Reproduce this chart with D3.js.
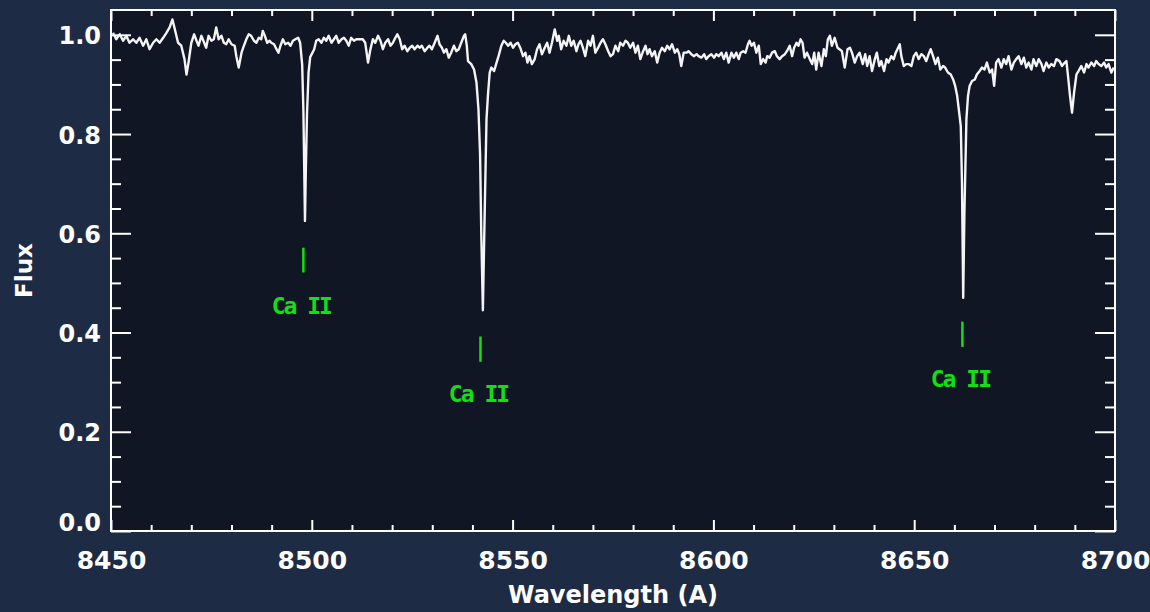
<!DOCTYPE html>
<html>
<head>
<meta charset="utf-8">
<script src="https://cdn.jsdelivr.net/npm/d3@7"></script>
<style>
  html, body { margin: 0; padding: 0; background: #1e2b44; }
  svg { display: block; }
</style>
</head>
<body>
<svg id="chart" width="1150" height="612"></svg>
<script>
// Ca II infrared triplet region: normalised flux vs wavelength (Angstrom)
const wavelength = [
  8450.5, 8451.3, 8452.2, 8453.0, 8453.8, 8454.6, 8455.5, 8456.3, 8457.1, 8458.0,
  8458.8, 8459.6, 8460.5, 8461.3, 8462.1, 8463.0, 8463.8, 8464.6, 8465.3, 8465.9,
  8466.7, 8467.5, 8468.3, 8468.8, 8469.3, 8470.0, 8470.7, 8471.3, 8471.8, 8472.5,
  8473.2, 8473.7, 8474.3, 8475.0, 8475.6, 8476.2, 8476.8, 8477.5, 8478.1, 8478.7,
  8479.3, 8480.0, 8480.8, 8481.2, 8481.8, 8482.5, 8483.1, 8483.7, 8484.3, 8484.9,
  8485.6, 8486.2, 8486.8, 8487.4, 8487.8, 8488.3, 8488.9, 8489.5, 8489.9, 8490.6,
  8491.2, 8491.7, 8492.2, 8492.8, 8493.4, 8494.1, 8494.7, 8495.3, 8495.9, 8496.6,
  8497.1, 8497.6, 8497.9, 8498.1, 8498.3, 8498.5, 8498.8, 8499.2, 8499.6, 8500.6,
  8501.1, 8501.7, 8502.4, 8503.0, 8503.6, 8504.2, 8504.9, 8505.5, 8506.1, 8506.7,
  8507.4, 8508.0, 8508.6, 8509.2, 8509.8, 8510.5, 8511.1, 8512.7, 8513.3, 8514.0,
  8514.6, 8515.2, 8515.8, 8516.5, 8517.1, 8517.7, 8518.3, 8519.0, 8519.6, 8520.2,
  8520.8, 8521.3, 8521.9, 8522.5, 8523.1, 8523.8, 8524.4, 8525.0, 8525.6, 8526.3,
  8526.9, 8527.4, 8528.1, 8528.8, 8529.3, 8529.9, 8530.6, 8531.3, 8531.8, 8532.4,
  8532.9, 8533.5, 8534.1, 8534.7, 8535.4, 8536.0, 8536.6, 8537.2, 8537.9, 8538.2,
  8538.6, 8538.9, 8539.7, 8540.4, 8541.0, 8541.5, 8541.9, 8542.2, 8542.6, 8543.0,
  8543.5, 8543.9, 8544.3, 8544.7, 8545.4, 8545.9, 8546.5, 8547.2, 8547.8, 8548.3,
  8548.9, 8549.5, 8550.1, 8550.7, 8551.3, 8551.9, 8552.6, 8553.2, 8553.7, 8554.2,
  8554.8, 8555.5, 8556.1, 8556.7, 8557.3, 8558.0, 8558.6, 8559.2, 8559.8, 8560.5,
  8561.1, 8561.5, 8562.1, 8562.7, 8563.4, 8564.0, 8564.6, 8565.2, 8565.9, 8566.4,
  8566.9, 8567.5, 8568.1, 8568.8, 8569.4, 8570.0, 8570.6, 8571.3, 8571.9, 8572.5,
  8573.1, 8573.8, 8574.4, 8575.0, 8575.6, 8576.3, 8576.8, 8577.5, 8578.1, 8578.7,
  8579.3, 8580.0, 8580.6, 8581.2, 8581.8, 8582.5, 8583.1, 8583.6, 8584.1, 8584.7,
  8585.4, 8586.0, 8586.6, 8587.2, 8587.9, 8588.5, 8589.1, 8589.7, 8590.4, 8591.0,
  8591.5, 8592.0, 8592.6, 8593.3, 8593.8, 8594.5, 8595.2, 8595.8, 8596.3, 8597.0,
  8597.7, 8598.2, 8598.8, 8599.5, 8600.2, 8600.7, 8601.3, 8602.0, 8602.6, 8603.2,
  8603.8, 8604.5, 8605.1, 8605.7, 8606.3, 8606.8, 8607.4, 8608.0, 8608.6, 8609.0,
  8609.5, 8610.1, 8610.7, 8611.3, 8611.8, 8612.4, 8613.0, 8613.4, 8614.0, 8614.6,
  8615.3, 8615.8, 8616.5, 8617.1, 8617.8, 8618.3, 8619.0, 8619.6, 8620.1, 8620.7,
  8621.2, 8621.7, 8622.2, 8622.7, 8623.3, 8624.0, 8624.6, 8625.1, 8625.6, 8626.2,
  8626.9, 8627.5, 8628.0, 8628.5, 8629.0, 8629.5, 8630.2, 8630.9, 8631.4, 8632.0,
  8632.7, 8633.4, 8634.0, 8634.5, 8635.2, 8635.8, 8636.4, 8637.2, 8637.8, 8638.3,
  8638.9, 8639.5, 8640.2, 8640.7, 8641.3, 8641.8, 8642.5, 8643.1, 8643.6, 8644.3,
  8644.9, 8645.4, 8646.0, 8646.4, 8646.8, 8647.4, 8648.0, 8648.6, 8649.3, 8649.9,
  8650.5, 8651.1, 8651.8, 8652.4, 8653.0, 8653.6, 8654.1, 8654.7, 8655.3, 8655.9,
  8656.5, 8657.2, 8657.7, 8658.4, 8659.1, 8659.7, 8660.2, 8660.7, 8661.1, 8661.6,
  8661.9, 8662.2, 8662.5, 8663.0, 8663.4, 8663.8, 8664.4, 8665.1, 8665.6, 8666.3,
  8666.9, 8667.5, 8668.1, 8668.8, 8669.4, 8669.9, 8670.4, 8671.0, 8671.7, 8672.3,
  8672.9, 8673.5, 8674.2, 8674.8, 8675.4, 8676.0, 8676.7, 8677.3, 8677.9, 8678.5,
  8679.2, 8679.7, 8680.4, 8681.0, 8681.7, 8682.2, 8682.9, 8683.5, 8684.1, 8684.8,
  8685.4, 8686.2, 8686.8, 8687.5, 8687.9, 8688.3, 8688.8, 8689.3, 8689.8, 8690.4,
  8690.9, 8691.6, 8692.3, 8692.9, 8693.4, 8694.1, 8694.8, 8695.3, 8695.9, 8696.6,
  8697.3, 8697.8, 8698.4, 8699.1, 8699.7
];

const flux = [
  1.004, 0.991, 1.001, 0.988, 0.998, 0.984, 0.991, 0.984, 0.994, 0.978,
  0.991, 0.971, 0.984, 0.991, 0.984, 0.994, 1.004, 1.015, 1.031, 1.011,
  0.984, 0.978, 0.951, 0.920, 0.944, 0.984, 1.001, 0.988, 0.978, 0.998,
  0.984, 0.974, 0.998, 0.988, 0.991, 1.015, 0.991, 0.998, 0.984, 0.981,
  0.991, 0.981, 0.978, 0.957, 0.934, 0.964, 0.978, 0.991, 1.001, 0.998,
  0.988, 0.984, 0.994, 0.991, 1.008, 0.998, 0.984, 0.988, 0.984, 0.981,
  0.971, 0.964, 0.978, 0.991, 0.981, 0.984, 0.978, 0.988, 0.991, 0.994,
  0.984, 0.940, 0.850, 0.740, 0.625, 0.720, 0.840, 0.925, 0.955, 0.971,
  0.988, 0.991, 0.984, 0.994, 0.988, 0.998, 0.984, 0.991, 0.998, 0.984,
  0.991, 0.994, 0.988, 0.978, 0.994, 0.988, 0.991, 0.991, 0.984, 0.944,
  0.971, 0.991, 0.984, 0.998, 0.988, 0.971, 0.984, 0.991, 0.978, 0.984,
  0.994, 1.001, 0.991, 0.971, 0.978, 0.967, 0.974, 0.978, 0.971, 0.978,
  0.974, 0.978, 0.967, 0.974, 0.978, 0.971, 0.984, 0.998, 0.981, 0.974,
  0.964, 0.971, 0.954, 0.964, 0.978, 0.967, 0.971, 0.984, 0.998, 1.001,
  0.978, 0.947, 0.941, 0.930, 0.904, 0.850, 0.760, 0.600, 0.445, 0.620,
  0.830, 0.883, 0.924, 0.934, 0.927, 0.941, 0.957, 0.978, 0.988, 0.984,
  0.978, 0.984, 0.974, 0.981, 0.984, 0.974, 0.957, 0.964, 0.944, 0.957,
  0.941, 0.951, 0.971, 0.981, 0.961, 0.974, 0.984, 0.964, 0.984, 1.011,
  0.988, 0.998, 0.971, 0.988, 0.978, 0.998, 0.978, 0.988, 0.967, 0.981,
  0.988, 0.974, 0.957, 0.988, 0.978, 0.998, 0.964, 0.974, 0.984, 0.991,
  0.981, 0.967, 0.957, 0.961, 0.978, 0.967, 0.984, 0.978, 0.988, 0.984,
  0.974, 0.984, 0.964, 0.978, 0.951, 0.967, 0.978, 0.961, 0.971, 0.957,
  0.967, 0.944, 0.964, 0.974, 0.967, 0.978, 0.971, 0.981, 0.964, 0.971,
  0.961, 0.937, 0.964, 0.964, 0.967, 0.961, 0.957, 0.961, 0.957, 0.954,
  0.961, 0.951, 0.957, 0.961, 0.954, 0.961, 0.957, 0.964, 0.951, 0.964,
  0.944, 0.964, 0.954, 0.964, 0.951, 0.964, 0.967, 0.964, 0.981, 0.988,
  0.978, 0.984, 0.964, 0.978, 0.941, 0.951, 0.944, 0.957, 0.954, 0.964,
  0.967, 0.957, 0.951, 0.957, 0.961, 0.967, 0.978, 0.957, 0.974, 0.984,
  0.978, 0.991, 0.984, 0.954, 0.964, 0.951, 0.941, 0.964, 0.930, 0.964,
  0.937, 0.971, 0.957, 0.991, 0.998, 0.978, 0.994, 0.974, 0.971, 0.967,
  0.934, 0.971, 0.974, 0.964, 0.944, 0.957, 0.964, 0.941, 0.961, 0.937,
  0.957, 0.927, 0.951, 0.964, 0.937, 0.947, 0.927, 0.951, 0.944, 0.957,
  0.951, 0.964, 0.974, 0.981, 0.957, 0.937, 0.941, 0.941, 0.937, 0.957,
  0.964, 0.951, 0.961, 0.957, 0.947, 0.961, 0.971, 0.957, 0.941, 0.954,
  0.930, 0.937, 0.934, 0.924, 0.920, 0.910, 0.897, 0.877, 0.850, 0.816,
  0.700, 0.470, 0.640, 0.830, 0.877, 0.897, 0.907, 0.910, 0.920, 0.927,
  0.934, 0.930, 0.944, 0.924, 0.930, 0.897, 0.944, 0.951, 0.934, 0.951,
  0.941, 0.957, 0.930, 0.944, 0.951, 0.957, 0.941, 0.954, 0.934, 0.944,
  0.930, 0.951, 0.937, 0.951, 0.941, 0.927, 0.944, 0.934, 0.941, 0.937,
  0.951, 0.947, 0.937, 0.944, 0.947, 0.917, 0.877, 0.843, 0.883, 0.920,
  0.927, 0.937, 0.924, 0.941, 0.934, 0.944, 0.937, 0.947, 0.941, 0.937,
  0.944, 0.934, 0.941, 0.924, 0.934
];

// Axis ticks
const xTickLabels = [8450, 8500, 8550, 8600, 8650, 8700];
const xMinorTicks = [8460, 8470, 8480, 8490, 8510, 8520, 8530, 8540, 8560, 8570,
                     8580, 8590, 8610, 8620, 8630, 8640, 8660, 8670, 8680, 8690];
const yTickLabels = [0.0, 0.2, 0.4, 0.6, 0.8, 1.0];
const yMinorTicks = [0.05, 0.10, 0.15, 0.25, 0.30, 0.35, 0.45, 0.50, 0.55,
                     0.65, 0.70, 0.75, 0.85, 0.90, 0.95];

// Ca II line identifications: marker wavelength, marker extent and label level (flux units)
const lineNames = ["Ca II", "Ca II", "Ca II"];
const lineWavelength = [8497.9, 8542.0, 8662.0];
const markerTop = [0.571, 0.392, 0.422];
const markerBottom = [0.521, 0.341, 0.371];
const labelLevel = [0.438, 0.260, 0.291];

const W = 1150, H = 612;
const margin = { left: 111, right: 35, top: 10, bottom: 81 };
const plotW = W - margin.left - margin.right;
const plotH = H - margin.top - margin.bottom;

const svg = d3.select("#chart");

// page background
svg.append("rect").attr("width", W).attr("height", H).attr("fill", "#1e2b44");

const x = d3.scaleLinear().domain([8450, 8700]).range([margin.left, margin.left + plotW]);
const y = d3.scaleLinear().domain([0, 1.05]).range([margin.top + plotH, margin.top]);

// plot panel
svg.append("rect")
  .attr("x", x.range()[0]).attr("y", y.range()[1])
  .attr("width", plotW).attr("height", plotH)
  .attr("fill", "#111624");

svg.append("clipPath").attr("id", "plotClip")
  .append("rect")
  .attr("x", x.range()[0]).attr("y", y.range()[1])
  .attr("width", plotW).attr("height", plotH);

const font = "'DejaVu Sans', sans-serif";
const bottomY = y(0), topY = y(1.05), leftX = x(8450), rightX = x(8700);

function styleAxis(g) {
  g.select(".domain").remove();
  g.selectAll(".tick line").attr("stroke", "#ffffff").attr("stroke-width", 2);
  g.selectAll(".tick text")
    .attr("fill", "#ffffff")
    .attr("font-family", font)
    .attr("font-weight", "bold");
}

// bottom axis: major ticks with labels, then minor ticks
svg.append("g").attr("transform", `translate(0,${bottomY})`)
  .call(d3.axisBottom(x).tickValues(xTickLabels).tickSizeInner(-11).tickSizeOuter(0)
    .tickPadding(20).tickFormat(d3.format("d")))
  .call(styleAxis)
  .call(g => g.selectAll(".tick text").attr("font-size", 25));
svg.append("g").attr("transform", `translate(0,${bottomY})`)
  .call(d3.axisBottom(x).tickValues(xMinorTicks).tickSizeInner(-6).tickSizeOuter(0).tickFormat(""))
  .call(styleAxis);

// top axis (ticks only)
svg.append("g").attr("transform", `translate(0,${topY})`)
  .call(d3.axisTop(x).tickValues(xTickLabels).tickSizeInner(-11).tickSizeOuter(0).tickFormat(""))
  .call(styleAxis);
svg.append("g").attr("transform", `translate(0,${topY})`)
  .call(d3.axisTop(x).tickValues(xMinorTicks).tickSizeInner(-6).tickSizeOuter(0).tickFormat(""))
  .call(styleAxis);

// left axis with labels
svg.append("g").attr("transform", `translate(${leftX},0)`)
  .call(d3.axisLeft(y).tickValues(yTickLabels).tickSizeInner(-20).tickSizeOuter(0)
    .tickPadding(10).tickFormat(d3.format(".1f")))
  .call(styleAxis)
  .call(g => g.selectAll(".tick text").attr("font-size", 24)
    .attr("dy", d => d === 0 ? "-0.02em" : "0.38em"));
svg.append("g").attr("transform", `translate(${leftX},0)`)
  .call(d3.axisLeft(y).tickValues(yMinorTicks).tickSizeInner(-10).tickSizeOuter(0).tickFormat(""))
  .call(styleAxis);

// right axis (ticks only)
svg.append("g").attr("transform", `translate(${rightX},0)`)
  .call(d3.axisRight(y).tickValues(yTickLabels).tickSizeInner(-20).tickSizeOuter(0).tickFormat(""))
  .call(styleAxis);
svg.append("g").attr("transform", `translate(${rightX},0)`)
  .call(d3.axisRight(y).tickValues(yMinorTicks).tickSizeInner(-10).tickSizeOuter(0).tickFormat(""))
  .call(styleAxis);

// spectrum
const spectrum = wavelength.map((w, i) => ({ w, f: flux[i] }));
const line = d3.line().x(d => x(d.w)).y(d => y(d.f));
svg.append("path")
  .datum(spectrum)
  .attr("clip-path", "url(#plotClip)")
  .attr("d", line)
  .attr("fill", "none")
  .attr("stroke", "#f4f4f4")
  .attr("stroke-width", 2.4)
  .attr("stroke-linejoin", "round");

// frame
svg.append("rect")
  .attr("x", leftX).attr("y", topY)
  .attr("width", rightX - leftX).attr("height", bottomY - topY)
  .attr("fill", "none").attr("stroke", "#ffffff").attr("stroke-width", 2);

// line identifications
const ids = lineNames.map((n, i) => ({
  name: n, w: lineWavelength[i], top: markerTop[i], bot: markerBottom[i], lab: labelLevel[i]
}));
const green = "#12e012";
svg.append("g").selectAll("line").data(ids).join("line")
  .attr("x1", d => x(d.w)).attr("x2", d => x(d.w))
  .attr("y1", d => y(d.top)).attr("y2", d => y(d.bot))
  .attr("stroke", green).attr("stroke-width", 2.5);
svg.append("g").selectAll("text").data(ids).join("text")
  .attr("x", d => x(d.w) - 2).attr("y", d => y(d.lab))
  .attr("text-anchor", "middle")
  .attr("fill", green)
  .attr("font-family", "'DejaVu Sans Mono', monospace")
  .attr("font-weight", "bold")
  .attr("font-size", 23)
  .attr("letter-spacing", -2)
  .text(d => d.name);

// axis titles
svg.append("text")
  .attr("x", (leftX + rightX) / 2).attr("y", 603)
  .attr("text-anchor", "middle")
  .attr("fill", "#ffffff").attr("font-family", font).attr("font-weight", "bold")
  .attr("font-size", 24)
  .text("Wavelength (A)");

svg.append("text")
  .attr("transform", `translate(32,${(topY + bottomY) / 2}) rotate(-90)`)
  .attr("text-anchor", "middle")
  .attr("fill", "#ffffff").attr("font-family", font).attr("font-weight", "bold")
  .attr("font-size", 23)
  .text("Flux");
</script>
</body>
</html>
